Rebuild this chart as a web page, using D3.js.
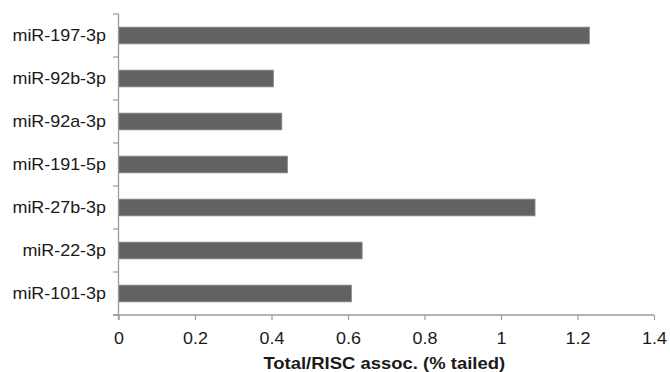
<!DOCTYPE html>
<html>
<head>
<meta charset="utf-8">
<script src="https://cdn.jsdelivr.net/npm/d3@7"></script>
<style>
  html, body { margin: 0; padding: 0; background: #fff; }
  svg { display: block; }
  text { font-family: "Liberation Sans", Arial, Helvetica, sans-serif; fill: #1a1a1a; }
</style>
</head>
<body>
<svg id="chart" width="670" height="372"></svg>
<script>
const categories = ["miR-197-3p", "miR-92b-3p", "miR-92a-3p", "miR-191-5p", "miR-27b-3p", "miR-22-3p", "miR-101-3p"];
const values = [1.231, 0.405, 0.427, 0.442, 1.089, 0.637, 0.609];
const xTicks = [0, 0.2, 0.4, 0.6, 0.8, 1, 1.2, 1.4];
const xTitle = "Total/RISC assoc. (% tailed)";

(function () {
const svg = d3.select("#chart");
const mLeft = 118.5, mRight = 654, mTop = 14, mBottom = 315;
const stretch = 1.12;
const axisColor = "#9b9b9b";

const x = d3.scaleLinear().domain([0, 1.4]).range([mLeft, mRight]);
const y = d3.scaleBand().domain(categories).range([mTop, mBottom]).paddingInner(0.61).paddingOuter(0.305);

// bars
svg.append("g").selectAll("rect").data(categories).join("rect")
  .attr("x", x(0))
  .attr("y", d => y(d))
  .attr("width", (d, i) => x(values[i]) - x(0))
  .attr("height", y.bandwidth())
  .attr("fill", "#626262")
  .attr("stroke", "#8e8e8e")
  .attr("stroke-width", 0.8);

// x axis
const xAxis = svg.append("g")
  .attr("transform", `translate(0,${mBottom})`)
  .call(d3.axisBottom(x).tickValues(xTicks).tickFormat(d3.format("~g")).tickSizeInner(5).tickSizeOuter(0));
xAxis.select(".domain").remove();
xAxis.append("line").attr("x1", mLeft - 5.5).attr("x2", mRight).attr("y1", 0).attr("y2", 0)
  .attr("stroke", axisColor).attr("stroke-width", 1.3);
xAxis.selectAll(".tick line").attr("stroke", axisColor).attr("stroke-width", 1.2);
xAxis.selectAll(".tick text")
  .attr("y", 0).attr("dy", null)
  .attr("transform", `translate(0,28.5) scale(${stretch},1)`)
  .style("font-size", "16px").attr("fill", "#1a1a1a");

// y axis line and ticks at band boundaries
const gy = svg.append("g");
gy.append("line").attr("x1", mLeft).attr("x2", mLeft).attr("y1", mTop).attr("y2", mBottom + 5)
  .attr("stroke", axisColor).attr("stroke-width", 1.3);
const boundaries = d3.range(categories.length + 1).map(i => mTop + i * y.step());
gy.selectAll("line.tk").data(boundaries).join("line").attr("class", "tk")
  .attr("x1", mLeft - 5.5).attr("x2", mLeft).attr("y1", d => d).attr("y2", d => d)
  .attr("stroke", axisColor).attr("stroke-width", 1.2);

// y labels
gy.selectAll("text").data(categories).join("text")
  .attr("text-anchor", "end")
  .attr("transform", d => `translate(${mLeft - 12.5},${y(d) + y.bandwidth() / 2 + 5.5}) scale(${stretch},1)`)
  .style("font-size", "16px")
  .text(d => d);

// x title
svg.append("text")
  .attr("text-anchor", "middle")
  .attr("transform", `translate(${(mLeft + mRight) / 2 - 2},368.5) scale(${stretch},1)`)
  .style("font-size", "16.5px").style("font-weight", "bold")
  .text(xTitle);
})();
</script>
</body>
</html>
